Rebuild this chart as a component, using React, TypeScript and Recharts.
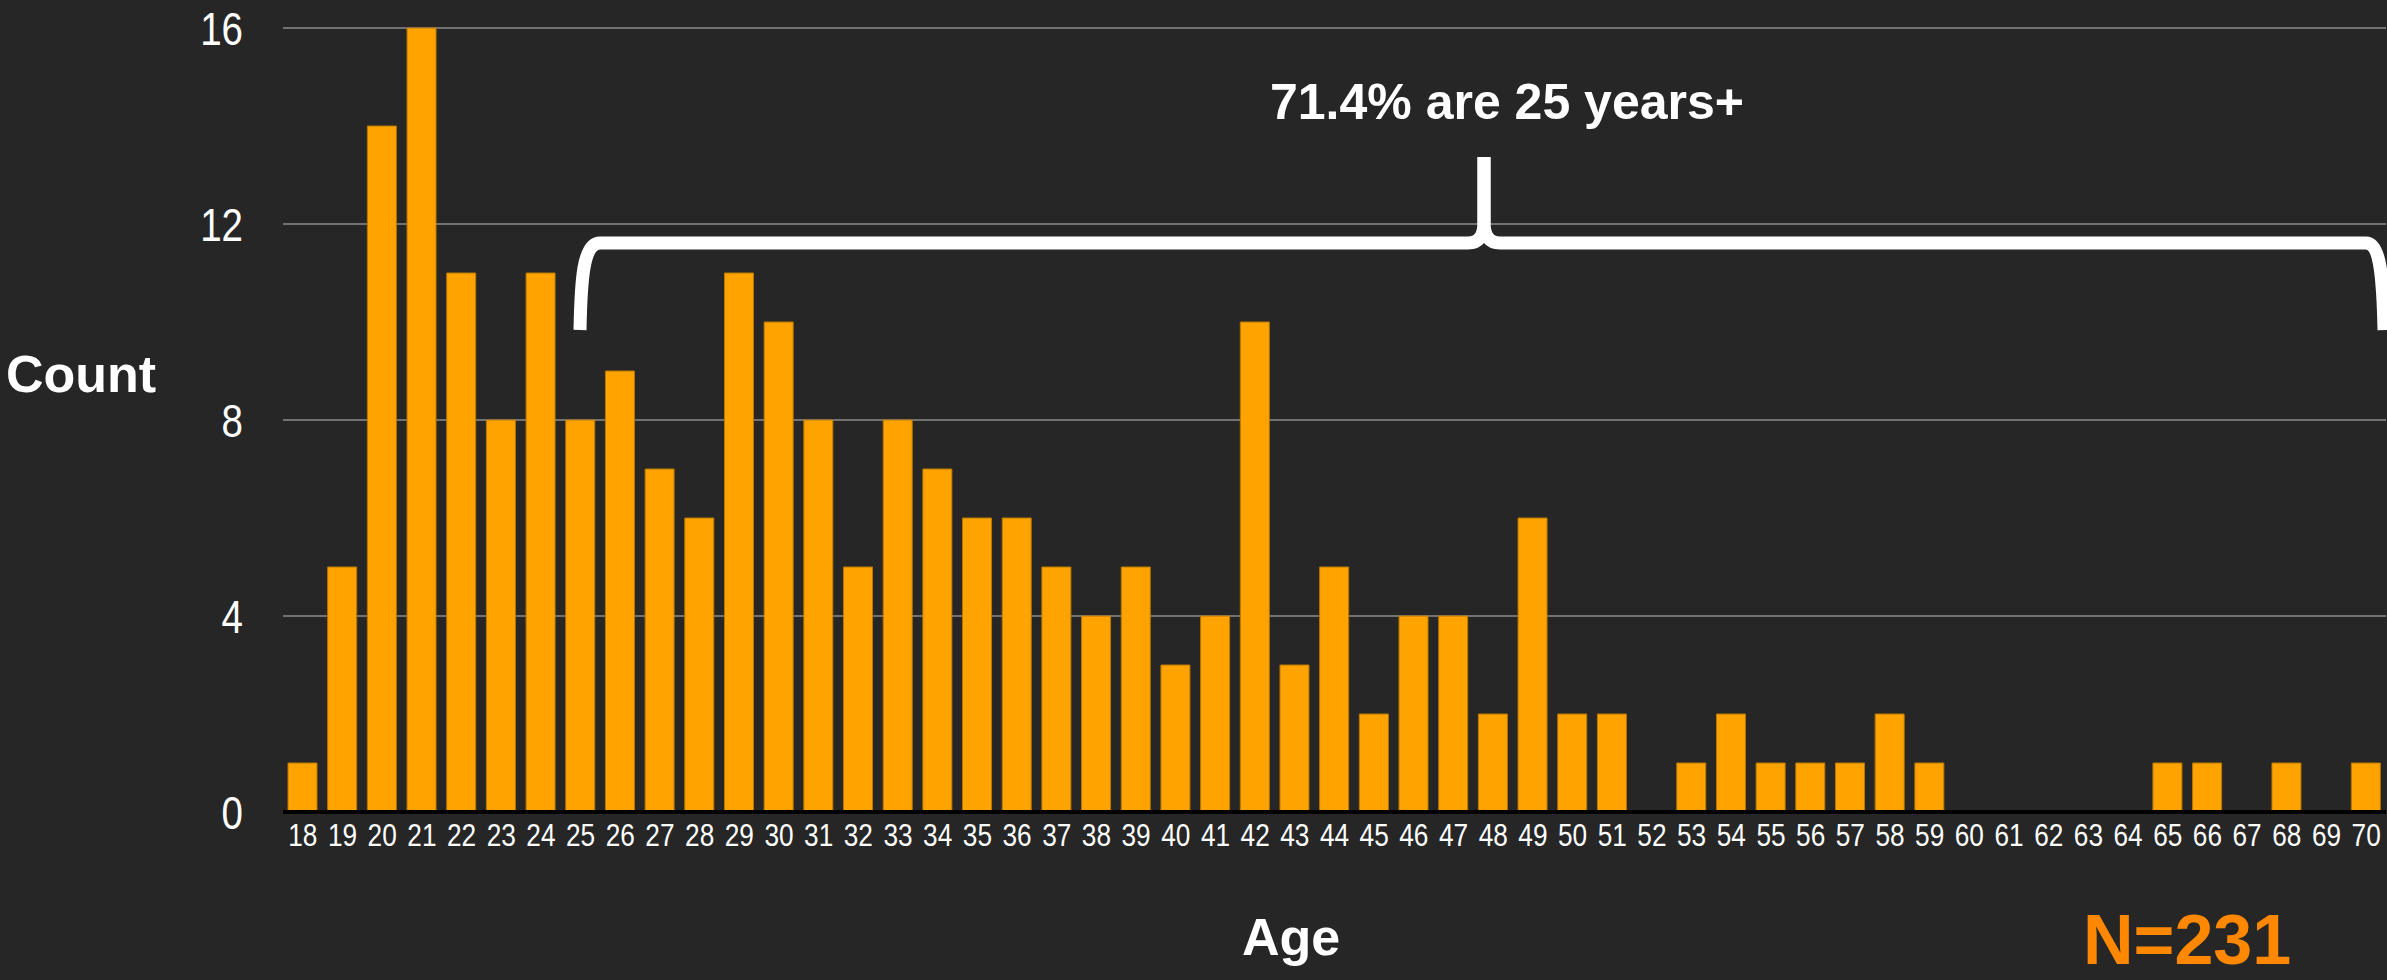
import React from "react";
import { BarChart, Bar, XAxis, YAxis, CartesianGrid } from "recharts";

const ages = [
    "18", "19", "20", "21", "22", "23", "24", "25", "26", "27", "28", "29", "30",
    "31", "32", "33", "34", "35", "36", "37", "38", "39", "40", "41", "42", "43",
    "44", "45", "46", "47", "48", "49", "50", "51", "52", "53", "54", "55", "56",
    "57", "58", "59", "60", "61", "62", "63", "64", "65", "66", "67", "68", "69", "70",
];

const counts = [
    1, 5, 14, 16, 11, 8, 11, 8, 9, 7, 6, 11, 10,
    8, 5, 8, 7, 6, 6, 5, 4, 5, 3, 4, 10, 3,
    5, 2, 4, 4, 2, 6, 2, 2, 0, 1, 2, 1, 1,
    1, 2, 1, 0, 0, 0, 0, 0, 1, 1, 0, 1, 0, 1,
];

const yTicks = [0, 4, 8, 12, 16];

const data = ages.map((age, i) => ({ age, count: counts[i] }));

const W = 2387;
const H = 980;
const BG = "#262626";
const BAR = "#FFA300";
const font = "'Liberation Sans', Arial, sans-serif";

// the source uses a condensed Helvetica, so squeeze regular glyphs sideways
const XTick = (props: any) => {
    const { x, y, payload } = props;
    return (
        <g transform={`translate(${x},${y})`}>
            <text transform="scale(0.82,1)" textAnchor="middle" y={23} fill="#ffffff" fontFamily={font} fontSize={32}>
                {payload.value}
            </text>
        </g>
    );
};

const YTick = (props: any) => {
    const { x, y, payload } = props;
    return (
        <g transform={`translate(${x},${y})`}>
            <text transform="scale(0.82,1)" textAnchor="end" y={17} fill="#ffffff" fontFamily={font} fontSize={47}>
                {payload.value}
            </text>
        </g>
    );
};

const Brace: React.FC = () => (
    <svg width={W} height={H} style={{ position: "absolute", left: 0, top: 0, pointerEvents: "none" }}>
        <path
            d="M 580 330 C 581 280, 583 243, 600 243 L 1468 243 Q 1484 243 1484 222 L 1484 157"
            fill="none"
            stroke="#ffffff"
            strokeWidth={13}
        />
        <path
            d="M 1484 157 L 1484 222 Q 1484 243 1500 243 L 2366 243 C 2381 243, 2383 280, 2384 330"
            fill="none"
            stroke="#ffffff"
            strokeWidth={13}
        />
        <text x={1507} y={119} textAnchor="middle" fill="#ffffff" fontFamily={font} fontWeight="bold" fontSize={50}>
            71.4% are 25 years+
        </text>
        <text x={6} y={392} fill="#ffffff" fontFamily={font} fontWeight="bold" fontSize={52}>
            Count
        </text>
        <text x={1291} y={955} textAnchor="middle" fill="#ffffff" fontFamily={font} fontWeight="bold" fontSize={52}>
            Age
        </text>
        <text x={2083} y={964} fill="#FF8800" fontFamily={font} fontWeight="bold" fontSize={70}>
            N=231
        </text>
    </svg>
);

const App: React.FC = () => {
    return (
        <div style={{ position: "absolute", left: 0, top: 0, width: W, height: H, background: BG, overflow: "hidden" }}>
            <BarChart width={W} height={H} data={data} margin={{ top: 28, right: 1, left: 0, bottom: 0 }}>
                <CartesianGrid vertical={false} stroke="#8c8c8c" strokeWidth={1.5} />
                <XAxis
                    dataKey="age"
                    height={168}
                    interval={0}
                    tickLine={false}
                    tickSize={0}
                    tickMargin={11}
                    axisLine={{ stroke: "#000000", strokeWidth: 4 }}
                    tick={<XTick />}
                />
                <YAxis
                    width={283}
                    domain={[0, 16]}
                    ticks={yTicks}
                    axisLine={false}
                    tickLine={false}
                    tickSize={0}
                    tickMargin={40}
                    tick={<YTick />}
                />
                <Bar
                    dataKey="count"
                    fill={BAR}
                    stroke="#b87800"
                    strokeWidth={1}
                    barSize={29}
                    isAnimationActive={false}
                />
            </BarChart>
            <Brace />
        </div>
    );
};

export default App;
